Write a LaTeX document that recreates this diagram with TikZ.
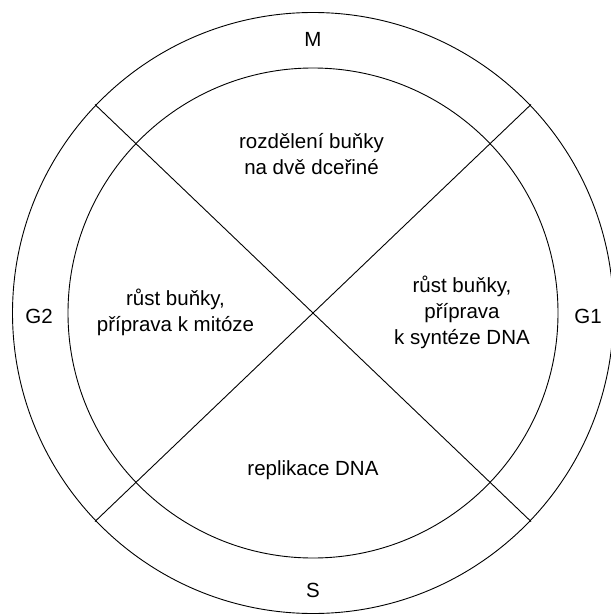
\documentclass[tikz,border=0pt]{standalone}
\usepackage{fontspec}
\setmainfont{Liberation Sans}
\usetikzlibrary{calc}
\begin{document}
\begin{tikzpicture}[x=1pt,y=-1pt,
  ring/.style={draw=black,line width=0.9pt},
  divider/.style={draw=black,line width=0.9pt},
  lbl/.style={align=center,inner sep=0pt,font=\fontsize{20.5}{26}\selectfont}]
\useasboundingbox (0,0) rectangle (610,615);
\fill[white] (0,0) rectangle (610,615);
\coordinate (c) at (313,313);
\draw[ring] (c) circle[radius=300.5pt];
\draw[ring] (c) circle[radius=245pt];
\coordinate (ul) at ($(c)+(-218pt,-208.5pt)$);
\coordinate (lr) at ($(c)+(218pt,208.5pt)$);
\coordinate (ur) at ($(c)+(218pt,-208.5pt)$);
\coordinate (ll) at ($(c)+(-218pt,208.5pt)$);
\draw[divider] (ul) -- (lr);
\draw[divider] (ur) -- (ll);
\node[lbl] (m) at (313,39) {M};
\node[lbl] (s) at (313,590) {S};
\node[lbl] (g2) at (39,316) {G2};
\node[lbl] (g1) at (588,316) {G1};
\node[lbl] (top) at (311.5,154) {rozdělení buňky\\ na dvě dceřiné};
\node[lbl] (left) at (175.5,312) {růst buňky,\\příprava k mitóze};
\node[lbl] (right) at (462,312.5) {růst buňky,\\příprava\\k syntéze DNA};
\node[lbl] (bottom) at (313,470) {replikace DNA};
\end{tikzpicture}
\end{document}
